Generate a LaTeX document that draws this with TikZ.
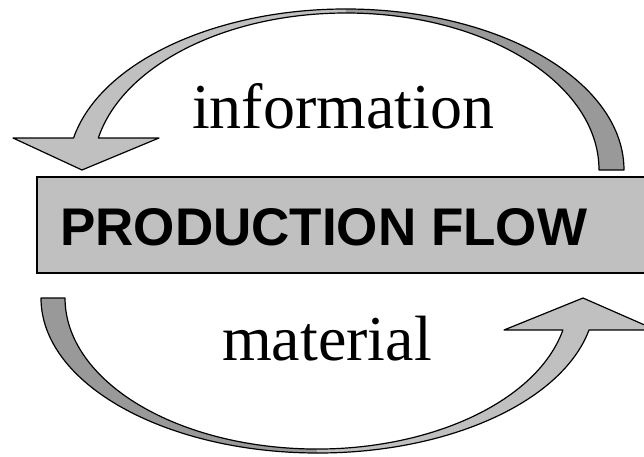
\documentclass[tikz,border=0pt]{standalone}
\usepackage{fontspec}
\setmainfont{Liberation Serif}
\newfontfamily\labelsans{Liberation Sans}
\definecolor{frontgray}{gray}{0.753}
\definecolor{backgray}{gray}{0.6}
\tikzset{
  front/.style={fill=frontgray, draw=none},
  back/.style={fill=backgray, draw=none},
  rim/.style={draw=black, line width=1.2pt, line join=round},
  flowbox/.style={fill=frontgray, draw=black, line width=1.8pt},
  flowlabel/.style={inner sep=0pt, anchor=base west, font=\fontsize{64}{64}\selectfont},
  boxlabel/.style={inner sep=0pt, anchor=base west, font=\labelsans\bfseries\fontsize{53}{53}\selectfont}
}
\begin{document}
\begin{tikzpicture}[x=1pt, y=1pt]
\useasboundingbox (0,0) rectangle (644,456);
\clip (0,0) rectangle (644,456);

% upper arrow: information flows back to the left
\fill[back] (346,447) arc[start angle=90, end angle=0, x radius=278, y radius=161]
  -- (599,286) arc[start angle=0, end angle=90, x radius=253, y radius=157] -- cycle;
\fill[front] (73.55,318) arc[start angle=168.53, end angle=90, x radius=278, y radius=161]
  -- (346,443) arc[start angle=90, end angle=168.24, x radius=253, y radius=157]
  -- (159,318) -- (82,286) -- (13,318) -- cycle;
\draw[rim] (73.55,318) arc[start angle=168.53, end angle=0, x radius=278, y radius=161]
  -- (599,286) arc[start angle=0, end angle=168.24, x radius=253, y radius=157]
  -- (159,318) -- (82,286) -- (13,318) -- cycle;

% lower arrow: material flows forward to the right
\fill[back] (41,158) arc[start angle=180, end angle=270, x radius=277, y radius=155]
  -- (316.8,7) arc[start angle=270, end angle=180, x radius=251.8, y radius=151] -- cycle;
\fill[front] (318,3) arc[start angle=270, end angle=348.09, x radius=277, y radius=155]
  -- (656,126) -- (583,158) -- (504,126)
  -- (562.9,126) arc[start angle=347.77, end angle=270, x radius=251.8, y radius=151] -- cycle;
\draw[rim] (41,158) arc[start angle=180, end angle=348.09, x radius=277, y radius=155]
  -- (656,126) -- (583,158) -- (504,126)
  -- (562.9,126) arc[start angle=347.77, end angle=180, x radius=251.8, y radius=151] -- cycle;

% central bar
\draw[flowbox] (37,183) rectangle (670,279);
\node[boxlabel] (flow) at (60,211) {PRODUCTION FLOW};

% flow labels
\node[flowlabel] (info) at (192,328) {information};
\node[flowlabel] (mat) at (222,96) {material};
\end{tikzpicture}
\end{document}
